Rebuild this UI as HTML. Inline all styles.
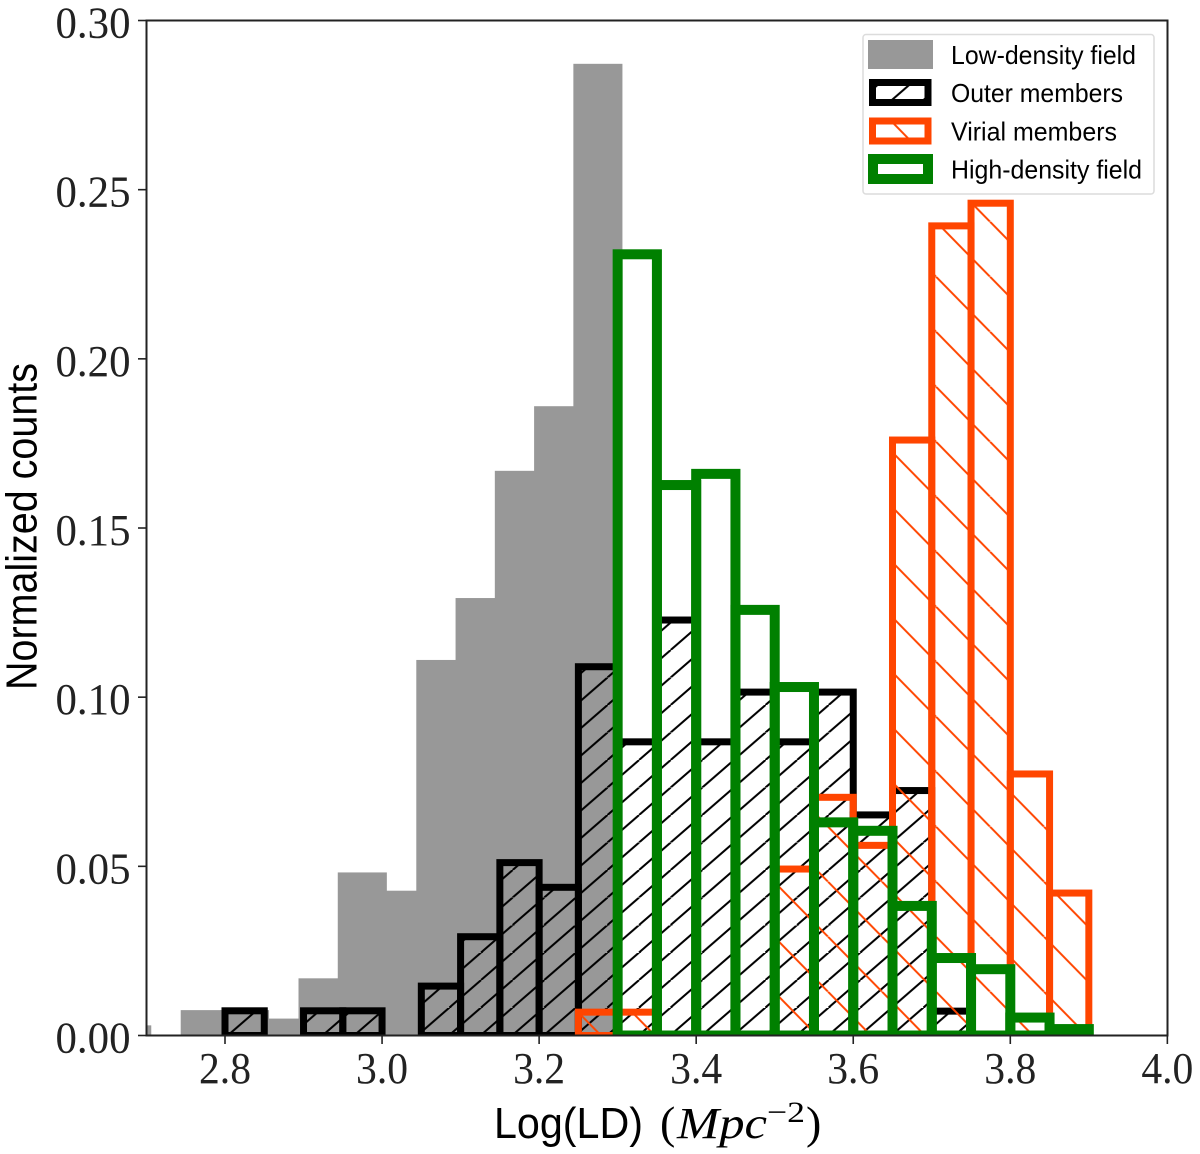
<!DOCTYPE html>
<html lang="en">
<head>
<meta charset="utf-8">
<title>Normalized counts histogram</title>
<style>
  html, body { margin: 0; padding: 0; background: #fff; }
  svg { display: block; }
  .num { font-family: "Liberation Serif", serif; font-size: 44px; fill: #222; }
  .sans { font-family: "Liberation Sans", sans-serif; fill: #000; }
  .serif { font-family: "Liberation Serif", serif; fill: #000; }
  .leg { font-family: "Liberation Sans", sans-serif; font-size: 26px; fill: #000; }
</style>
</head>
<body>
<svg id="chart" xmlns="http://www.w3.org/2000/svg" width="1200" height="1154" viewBox="0 0 1200 1154">
  <defs>
    <clipPath id="axes-clip"><rect x="146.5" y="20.5" width="1021" height="1015"></rect></clipPath>
    <pattern id="hatch-black" patternUnits="userSpaceOnUse" x="702.3" y="897.5" width="31.6" height="27.5">
      <path d="M0,27.5L31.6,0M-31.6,27.5L0,0M31.6,27.5L63.2,0" stroke="#000" stroke-width="2" fill="none"></path>
    </pattern>
    <pattern id="hatch-red" patternUnits="userSpaceOnUse" x="936" y="441.7" width="54" height="55">
      <path d="M0,0L54,55M-54,0L0,55M54,0L108,55" stroke="#ff4500" stroke-width="2" fill="none"></path>
    </pattern>
  </defs>
  <rect x="0" y="0" width="1200" height="1154" fill="#fff"></rect>
  <g id="plot" clip-path="url(#axes-clip)"></g>
  <g id="axes"></g>

  <text class="sans" font-size="44" transform="translate(36.5,690) rotate(-90)" textLength="327" lengthAdjust="spacingAndGlyphs">Normalized counts</text>

  <g>
    <text class="sans" font-size="44" x="494" y="1138" textLength="149" lengthAdjust="spacingAndGlyphs">Log(LD)</text>
    <text class="serif" font-size="46" x="660" y="1138">(</text>
    <text class="serif" font-size="44" font-style="italic" x="677" y="1138" textLength="90" lengthAdjust="spacingAndGlyphs">Mpc</text>
    <text class="serif" font-size="30" x="767" y="1122" textLength="38" lengthAdjust="spacingAndGlyphs">−2</text>
    <text class="serif" font-size="46" x="806" y="1138">)</text>
  </g>

  <g>
    <rect x="863" y="34.5" width="291" height="159.5" rx="3" ry="3" fill="#fff" fill-opacity="0.9" stroke="#dcdcdc" stroke-width="1.5"></rect>
    <rect x="868" y="40" width="65" height="29" fill="#989898"></rect>
    <rect x="872.5" y="82.5" width="55.5" height="20" fill="url(#hatch-black)" stroke="#000" stroke-width="7"></rect>
    <rect x="872.5" y="121" width="55.5" height="20" fill="url(#hatch-red)" stroke="#ff4500" stroke-width="7"></rect>
    <rect x="873" y="159" width="55" height="20" fill="none" stroke="#008000" stroke-width="10"></rect>
    <text class="leg" x="951" y="64" textLength="185" lengthAdjust="spacingAndGlyphs">Low-density field</text>
    <text class="leg" x="951" y="102" textLength="172" lengthAdjust="spacingAndGlyphs">Outer members</text>
    <text class="leg" x="951" y="140.5" textLength="166" lengthAdjust="spacingAndGlyphs">Virial members</text>
    <text class="leg" x="951" y="178.5" textLength="191" lengthAdjust="spacingAndGlyphs">High-density field</text>
  </g>
</svg>
<script>
// Tick labels
const xTicks = ["2.8", "3.0", "3.2", "3.4", "3.6", "3.8", "4.0"];
const yTicks = ["0.00", "0.05", "0.10", "0.15", "0.20", "0.25", "0.30"];

// Low-density field (gray) bin starts and counts
const lowStart = 2.6436;
const lowValues = [0.003, 0, 0.0075, 0.0075, 0.005, 0.0169, 0.0482, 0.0428, 0.111, 0.1293, 0.1669, 0.186, 0.2872];

// Outer members (black) bin starts and counts
const outerStart = 2.7;
const outerValues = [0, 0, 0.0073, 0, 0.0073, 0.0073, 0, 0.0146, 0.0292, 0.0511, 0.0438, 0.109, 0.0868, 0.1228, 0.0868, 0.1015, 0.0868, 0.1015, 0.0652, 0.0724, 0.0072, 0];

// Virial members (orange) bin starts and counts
const virialStart = 3.25;
const virialValues = [0.0069, 0.0069, 0, 0, 0, 0.0492, 0.0704, 0.0562, 0.176, 0.2393, 0.246, 0.0773, 0.0421];

// High-density field (green) bin starts and counts
const highStart = 2.7;
const highValues = [0, 0, 0, 0, 0, 0, 0, 0, 0, 0, 0, 0, 0.2309, 0.1627, 0.166, 0.1258, 0.103, 0.063, 0.0605, 0.0383, 0.0229, 0.0196, 0.0053, 0.0019];

const binStep = 0.05;
const lowWidth = 0.0625;

const NS = "http://www.w3.org/2000/svg";
const xScale = v => 225 + (v - 2.8) * 785.3;
const yScale = v => 1035.5 - v * 3383.3;
const plot = document.getElementById("plot");
const axes = document.getElementById("axes");

function make(tag, attrs, parent) {
  const el = document.createElementNS(NS, tag);
  for (const k in attrs) el.setAttribute(k, attrs[k]);
  parent.appendChild(el);
  return el;
}

function drawBars(values, start, width, style, name) {
  values.forEach((v, i) => {
    const x0 = xScale(start + i * binStep);
    const x1 = xScale(start + i * binStep + width);
    const y = yScale(v);
    const bar = make("rect", {
      x: x0, y: y, width: x1 - x0, height: yScale(0) - y,
      fill: style.fill, stroke: style.stroke, "stroke-width": style.lw
    }, plot);
    
    
  });
}

drawBars(lowValues, lowStart, lowWidth, { fill: "#989898", stroke: "none", lw: 0 }, "low-density-bar");
drawBars(outerValues, outerStart, binStep, { fill: "url(#hatch-black)", stroke: "#000", lw: 7 }, "outer-members-bar");
drawBars(virialValues, virialStart, binStep, { fill: "url(#hatch-red)", stroke: "#ff4500", lw: 7 }, "virial-members-bar");
drawBars(highValues, highStart, binStep, { fill: "none", stroke: "#008000", lw: 10 }, "high-density-bar");

// Spines
const frame = make("rect", { x: 146.5, y: 20.5, width: 1021, height: 1015, fill: "none", stroke: "#222", "stroke-width": 2 }, axes);



// X ticks
xTicks.forEach(t => {
  const x = xScale(parseFloat(t));
  const tick = make("line", { x1: x, x2: x, y1: 1036, y2: 1044, stroke: "#222", "stroke-width": 1.6 }, axes);
  
  
  const label = make("text", { x: x - 26, y: 1083, class: "num", textLength: 52, lengthAdjust: "spacingAndGlyphs" }, axes);
  
  
  label.textContent = t;
});

// Y ticks
yTicks.forEach(t => {
  const y = yScale(parseFloat(t));
  const tick = make("line", { x1: 138, x2: 146, y1: y, y2: y, stroke: "#222", "stroke-width": 1.6 }, axes);
  
  
  const label = make("text", { x: 55.5, y: y + 17, class: "num", textLength: 75, lengthAdjust: "spacingAndGlyphs" }, axes);
  
  
  label.textContent = t;
});
</script>
</body>
</html>
